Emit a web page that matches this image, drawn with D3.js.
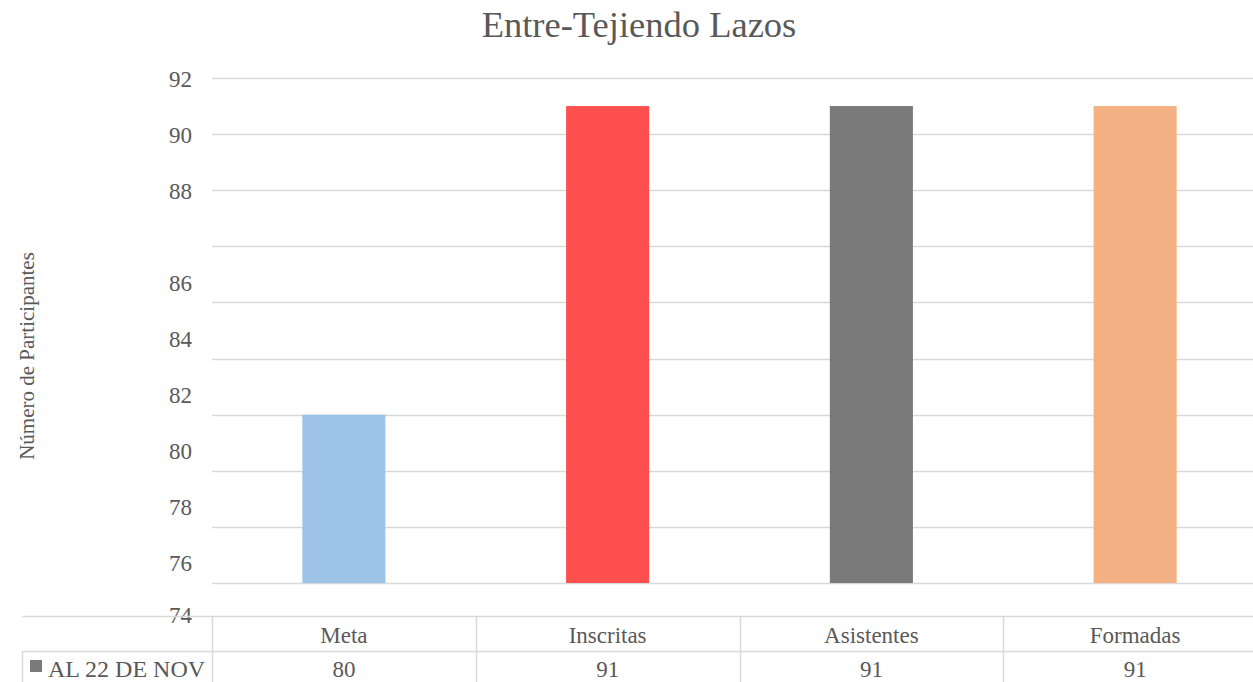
<!DOCTYPE html>
<html>
<head>
<meta charset="utf-8">
<script src="https://cdn.jsdelivr.net/npm/d3@7"></script>
<style>
  body { margin: 0; background: #fff; }
  svg { display: block; font-family: "Liberation Serif", "Times New Roman", serif; }
  text { fill: #595959; }
</style>
</head>
<body>
<svg width="1253" height="682"></svg>
<script>
var categories = ["Meta", "Inscritas", "Asistentes", "Formadas"];
var values = [80, 91, 91, 91];
var barColors = ["#9DC3E6", "#FF4F4F", "#7A7A7A", "#F4B183"];
var yTicks = [74, 76, 78, 80, 82, 84, 86, 88, 90, 92];
var seriesName = "AL 22 DE NOV";

var svg = d3.select("svg");
var width = 1253, height = 682;

// plot area (last table column runs past the right edge, like the original)
var plotLeft = 212, plotRight = 1267, plotTop = 78, plotBottom = 583;

var x = d3.scaleBand()
    .domain(categories)
    .range([plotLeft, plotRight])
    .paddingInner(0)
    .paddingOuter(0);

var y = d3.scaleLinear()
    .domain([74, 92])
    .range([plotBottom, plotTop]);

var grid = "#d9d9d9";

// gridlines
svg.append("g")
  .selectAll("line")
  .data(yTicks)
  .enter().append("line")
    .attr("x1", plotLeft)
    .attr("x2", width)
    .attr("y1", function(d) { return Math.round(y(d)) + 0.5; })
    .attr("y2", function(d) { return Math.round(y(d)) + 0.5; })
    .attr("stroke", grid)
    .attr("stroke-width", 1.5);

// y axis labels (the lower ones sit lower than their gridlines in the original)
var yAxis = svg.append("g")
    .attr("transform", "translate(" + (plotLeft - 20) + ",0)")
    .call(d3.axisLeft(y).tickValues(yTicks).tickSize(0).tickPadding(0));
yAxis.select(".domain").remove();
yAxis.selectAll("text")
    .style("font-size", "23px")
    .style("font-family", "Liberation Serif")
    .attr("fill", "#595959")
    .attr("dy", function(d) { return d <= 86 ? (d == 74 ? "39px" : "44px") : "8px"; });

// bars
var bw = x.bandwidth() * 0.315;
svg.append("g")
  .selectAll("rect")
  .data(values)
  .enter().append("rect")
    .attr("x", function(d, i) { return x(categories[i]) + x.bandwidth() / 2 - bw / 2; })
    .attr("y", function(d) { return y(d); })
    .attr("width", bw)
    .attr("height", function(d) { return y(74) - y(d); })
    .attr("fill", function(d, i) { return barColors[i]; });

// title
svg.append("text")
    .attr("x", 639)
    .attr("y", 37)
    .attr("text-anchor", "middle")
    .style("font-size", "36.5px")
    .text("Entre-Tejiendo Lazos");

// y axis title
svg.append("text")
    .attr("transform", "translate(34,356) rotate(-90)")
    .attr("text-anchor", "middle")
    .style("font-size", "21px")
    .text("Número de Participantes");

// data table
var tTop = 616.5, tMid = 651.5;
var table = svg.append("g").attr("stroke", grid).attr("stroke-width", 1.5);
table.append("line").attr("x1", 22).attr("x2", width).attr("y1", tTop).attr("y2", tTop);
table.append("line").attr("x1", 22).attr("x2", width).attr("y1", tMid).attr("y2", tMid);
table.append("line").attr("x1", 22.5).attr("x2", 22.5).attr("y1", tMid).attr("y2", height);
table.selectAll("line.col")
  .data(categories)
  .enter().append("line")
    .attr("class", "col")
    .attr("x1", function(d) { return Math.round(x(d)) + 0.5; })
    .attr("x2", function(d) { return Math.round(x(d)) + 0.5; })
    .attr("y1", tTop)
    .attr("y2", height);

svg.append("g")
  .selectAll("text")
  .data(categories)
  .enter().append("text")
    .attr("x", function(d) { return x(d) + x.bandwidth() / 2; })
    .attr("y", 643)
    .attr("text-anchor", "middle")
    .style("font-size", "23px")
    .text(function(d) { return d; });

svg.append("g")
  .selectAll("text")
  .data(values)
  .enter().append("text")
    .attr("x", function(d, i) { return x(categories[i]) + x.bandwidth() / 2; })
    .attr("y", 677)
    .attr("text-anchor", "middle")
    .style("font-size", "23px")
    .text(function(d) { return d; });

// legend key + series name
svg.append("rect")
    .attr("x", 30).attr("y", 660)
    .attr("width", 12).attr("height", 12)
    .attr("fill", "#7A7A7A");
svg.append("text")
    .attr("x", 48)
    .attr("y", 677)
    .style("font-size", "24px")
    .text(seriesName);
</script>
</body>
</html>
